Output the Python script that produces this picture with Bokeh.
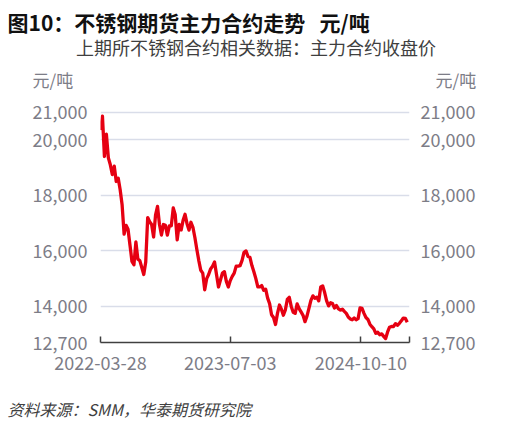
import pandas as pd
from bokeh.plotting import figure
from bokeh.layouts import column
from bokeh.models import (Range1d, LinearAxis, FixedTicker, NumeralTickFormatter,
                          DatetimeTickFormatter, Legend, LegendItem)
from bokeh.core.properties import value
from bokeh.embed import file_html
from bokeh.resources import INLINE

# ---------------- data ----------------
start_date = "2022-03-28"
end_date = "2025-04-01"
# weekly closing price of SHFE stainless steel main contract (yuan/ton)
price = [
    20350, 20850, 19400, 20200, 19350, 19100, 18750, 19050, 18500, 18620,
    18200, 17650, 16600, 16920, 16780, 16200, 15620, 15500, 16320, 15700,
    15650, 15400, 15150, 15600, 17200, 17050, 16950, 16500, 17300, 17600,
    16950, 16570, 16950, 16920, 16570, 16900, 16900, 17550, 17300, 16400,
    16950, 16750, 17100, 17320, 16980, 16750, 17030, 16850, 16480, 16050,
    15650, 15300, 15200, 14600, 15000, 15150, 15350, 15450, 15600, 15150,
    14700, 14950, 15200, 15250, 14900, 14700, 14930, 15080, 15200, 15450,
    15450, 15470, 15660, 15950, 16000, 15800, 15770, 15470, 15250, 15000,
    14700, 14700, 14750, 14580, 14620, 14300, 14100, 13700, 13600, 13350,
    13750, 14050, 13900, 13680, 13870, 14250, 14330, 14000, 13790, 13750,
    14090, 13920, 13800, 13680, 13450, 13650, 13930, 14220, 14380, 14290,
    14330, 14200, 14700, 14740, 14500, 14200, 14020, 14130, 14100, 13940,
    14030, 13910, 13870, 13900, 13820, 13750, 13620, 13550, 13520, 13580,
    13520, 13560, 13950, 13930, 13750, 13600, 13530, 13360, 13270, 13190,
    13030, 13070, 12980, 13010, 12920, 12840, 13080, 13250, 13280, 13270,
    13380, 13320, 13390, 13480, 13580, 13570, 13430,
]
x_tick_dates = ["2022-03-28", "2023-07-03", "2024-10-10"]
y_ticks = [12700, 14000, 16000, 18000, 20000, 21000]
y_min, y_max = 12700, 21200

title_text = "图10：不锈钢期货主力合约走势\u00a0\u00a0\u00a0元/吨"
series_name = "上期所不锈钢合约相关数据：主力合约收盘价"
unit_text = "元/吨"
source_text = "资料来源：SMM，华泰期货研究院"

dates = pd.date_range(start_date, periods=len(price), freq="7D")

# ---------------- styles ----------------
FONT = "Noto Sans CJK SC"
RED = "#e60012"
GRAY = "#7d7d87"
GRID = "#d9dde9"
AXIS = "#404040"

W = 518
HEAD_H, MAIN_H, FOOT_H = 96, 289, 41


def blank(h):
    f = figure(width=W, height=h, output_backend="svg", toolbar_location=None,
               x_range=Range1d(0, W), y_range=Range1d(h, 0),
               x_axis_location=None, y_axis_location=None,
               min_border=0, frame_align=False)
    f.outline_line_color = None
    f.grid.visible = False
    f.background_fill_color = "white"
    f.border_fill_color = "white"
    return f


# ---------------- header ----------------
head = blank(HEAD_H)
head.text(x=[7], y=[21], text=[title_text], text_font=value(FONT),
          text_font_size="21px", text_font_style="bold", text_color="#111111",
          text_baseline="middle", text_align="left")
head.text(x=[32, 435], y=[79, 79], text=[unit_text, unit_text], text_font=value(FONT),
          text_font_size="17px", text_color=GRAY, text_baseline="middle",
          text_align="left")
proxy = head.line([], [], line_color=RED, line_width=5, line_cap="round")
legend = Legend(items=[LegendItem(label=series_name, renderers=[proxy])],
                location=(38, 36), orientation="horizontal",
                glyph_width=29, glyph_height=20, label_height=20,
                label_standoff=9, padding=0, margin=0, spacing=0,
                border_line_color=None, background_fill_alpha=0,
                label_text_font=FONT, label_text_font_size="18px",
                label_text_color="#3f3f3f")
head.add_layout(legend, "center")

# ---------------- main chart ----------------
p = figure(width=W, height=MAIN_H, output_backend="svg", toolbar_location=None,
           x_axis_type="datetime",
           x_range=Range1d(pd.Timestamp(start_date), pd.Timestamp(end_date)),
           y_range=Range1d(y_min, y_max),
           min_border_left=100, min_border_right=109,
           min_border_top=10, min_border_bottom=43, frame_align=False)
p.outline_line_color = None
p.background_fill_color = "white"
p.border_fill_color = "white"

p.line(dates, price, line_color=RED, line_width=3.3, line_join="round")

p.xgrid.visible = False
p.ygrid.ticker = FixedTicker(ticks=y_ticks[1:])
p.ygrid.grid_line_color = GRID
p.ygrid.grid_line_width = 1.5


def style_y(ax, standoff):
    ax.ticker = FixedTicker(ticks=y_ticks)
    ax.formatter = NumeralTickFormatter(format="0,0")
    ax.axis_line_color = None
    ax.major_tick_line_color = None
    ax.major_tick_in = 0
    ax.major_tick_out = 0
    ax.minor_tick_line_color = None
    ax.minor_tick_in = 0
    ax.minor_tick_out = 0
    ax.major_label_text_font = FONT
    ax.major_label_text_font_size = "18px"
    ax.major_label_text_color = GRAY
    ax.major_label_standoff = standoff


style_y(p.yaxis[0], 13)
ry = LinearAxis()
style_y(ry, 11)
p.add_layout(ry, "right")

end_ms = int(pd.Timestamp(end_date).value // 10**6)
xt = [int(pd.Timestamp(d).value // 10**6) for d in x_tick_dates] + [end_ms]
xa = p.xaxis[0]
xa.ticker = FixedTicker(ticks=xt)
fmt = "%Y-%m-%d"
xa.formatter = DatetimeTickFormatter(days=fmt, months=fmt, years=fmt, hours=fmt,
                                     minutes=fmt, hourmin=fmt, seconds=fmt,
                                     minsec=fmt, milliseconds=fmt, microseconds=fmt)
xa.major_label_overrides = {end_ms: ""}
xa.axis_line_color = AXIS
xa.axis_line_width = 1.5
xa.major_tick_line_color = AXIS
xa.major_tick_line_width = 1.5
xa.major_tick_in = 6
xa.major_tick_out = 0
xa.minor_tick_line_color = None
xa.minor_tick_in = 0
xa.minor_tick_out = 0
xa.major_label_text_font = FONT
xa.major_label_text_font_size = "18px"
xa.major_label_text_color = GRAY
xa.major_label_standoff = 13

# ---------------- footer ----------------
foot = blank(FOOT_H)
foot.text(x=[7], y=[23], text=[source_text], text_font=value(FONT),
          text_font_size="16px", text_font_style="italic", text_color="#404040",
          text_baseline="middle", text_align="left")

layout = column(head, p, foot, spacing=0)
open("out.html", "w").write(file_html(layout, INLINE))
